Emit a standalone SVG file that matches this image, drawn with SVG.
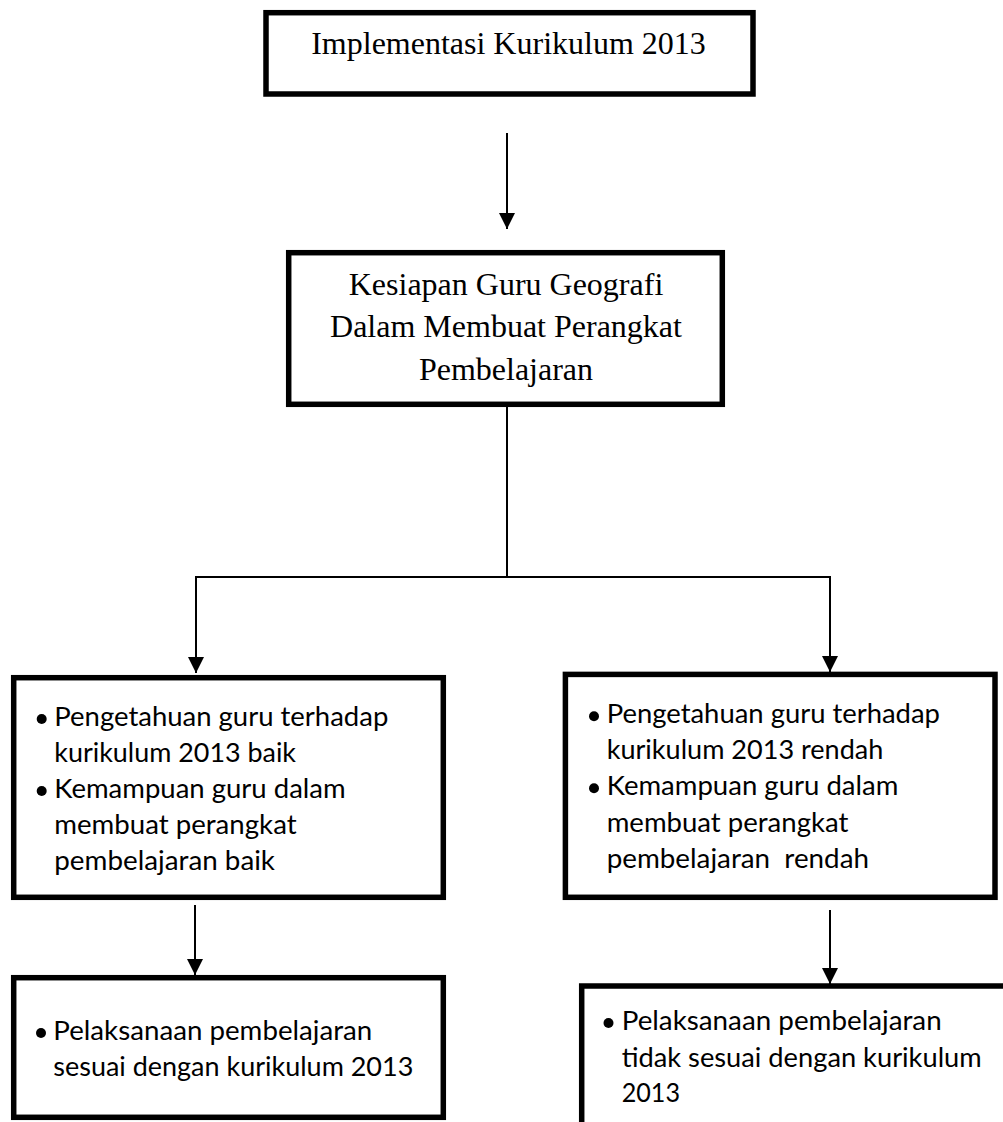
<svg xmlns="http://www.w3.org/2000/svg" width="1003" height="1122" viewBox="0 0 1003 1122">
<style>
.box{fill:#fff;stroke:#000;stroke-width:5.5}
.serif{font-family:"Liberation Serif","Times New Roman",serif;font-size:32px;fill:#000;text-anchor:middle}
.sans{font-family:Lato,"Open Sans","Liberation Sans",sans-serif;font-size:26.5px;fill:#000;white-space:pre}
.line{fill:none;stroke:#000;stroke-width:2}
.bul{fill:#000}
</style>
<defs>
<marker id="arr" viewBox="0 0 16 16" refX="16" refY="8" markerWidth="16" markerHeight="16" markerUnits="userSpaceOnUse" orient="auto">
<path d="M0,0 L16,8 L0,16 Z" fill="#000"/>
</marker>
</defs>
<rect width="1003" height="1122" fill="#fff"/>
<g id="connectors">
<line class="line" x1="507" y1="133" x2="507" y2="229" marker-end="url(#arr)"/>
<polyline class="line" points="507,407 507,577"/>
<polyline class="line" points="196,577 830,577"/>
<line class="line" x1="196" y1="576" x2="196" y2="673" marker-end="url(#arr)"/>
<line class="line" x1="830" y1="576" x2="830" y2="672" marker-end="url(#arr)"/>
<line class="line" x1="195" y1="905" x2="195" y2="975" marker-end="url(#arr)"/>
<line class="line" x1="830" y1="910" x2="830" y2="984" marker-end="url(#arr)"/>
</g>
<g id="node-implementasi">
<rect class="box" x="266" y="12.7" width="487" height="81.3"/>
<text class="serif" x="508.5" y="54">Implementasi Kurikulum 2013</text>
</g>
<g id="node-kesiapan">
<rect class="box" x="288.7" y="252.7" width="433.6" height="151.6"/>
<text class="serif" x="506" y="295">Kesiapan Guru Geografi</text>
<text class="serif" x="506" y="337">Dalam Membuat Perangkat</text>
<text class="serif" x="506" y="380">Pembelajaran</text>
</g>
<g id="node-baik">
<rect class="box" x="13.7" y="677.7" width="429.6" height="219.6"/>
<circle class="bul" cx="41.7" cy="719" r="5"/>
<circle class="bul" cx="41.7" cy="791" r="5"/>
<text class="sans" x="54.3" y="726" textLength="334" lengthAdjust="spacingAndGlyphs">Pengetahuan guru terhadap</text>
<text class="sans" x="54.3" y="762" textLength="241.7" lengthAdjust="spacingAndGlyphs">kurikulum 2013 baik</text>
<text class="sans" x="54.3" y="798" textLength="291.3" lengthAdjust="spacingAndGlyphs">Kemampuan guru dalam</text>
<text class="sans" x="54.3" y="834" textLength="242.3" lengthAdjust="spacingAndGlyphs">membuat perangkat</text>
<text class="sans" x="54.3" y="870" textLength="220.7" lengthAdjust="spacingAndGlyphs">pembelajaran baik</text>
</g>
<g id="node-rendah">
<rect class="box" x="565.4" y="674.4" width="429.6" height="222.9"/>
<circle class="bul" cx="594" cy="716.3" r="5"/>
<circle class="bul" cx="594" cy="788.3" r="5"/>
<text class="sans" x="606.7" y="723.3" textLength="333.3" lengthAdjust="spacingAndGlyphs">Pengetahuan guru terhadap</text>
<text class="sans" x="606.7" y="759.3" textLength="276.7" lengthAdjust="spacingAndGlyphs">kurikulum 2013 rendah</text>
<text class="sans" x="606.7" y="795.3" textLength="291.7" lengthAdjust="spacingAndGlyphs">Kemampuan guru dalam</text>
<text class="sans" x="606.7" y="831.7" textLength="241.7" lengthAdjust="spacingAndGlyphs">membuat perangkat</text>
<text class="sans" x="606.7" y="868.3" textLength="262.3" lengthAdjust="spacingAndGlyphs">pembelajaran  rendah</text>
</g>
<g id="node-sesuai">
<rect class="box" x="13.7" y="977.7" width="429.6" height="139.6"/>
<circle class="bul" cx="41" cy="1033" r="5"/>
<text class="sans" x="53.3" y="1040" textLength="319" lengthAdjust="spacingAndGlyphs">Pelaksanaan pembelajaran</text>
<text class="sans" x="53.3" y="1075.5" textLength="360" lengthAdjust="spacingAndGlyphs">sesuai dengan kurikulum 2013</text>
</g>
<g id="node-tidak-sesuai">
<rect class="box" x="581.7" y="986" width="500" height="200"/>
<circle class="bul" cx="608.5" cy="1023" r="5"/>
<text class="sans" x="621.7" y="1030" textLength="320" lengthAdjust="spacingAndGlyphs">Pelaksanaan pembelajaran</text>
<text class="sans" x="621.7" y="1066.7" textLength="360" lengthAdjust="spacingAndGlyphs">tidak sesuai dengan kurikulum</text>
<text class="sans" x="621.7" y="1101.7" textLength="58.3" lengthAdjust="spacingAndGlyphs">2013</text>
</g>
</svg>
